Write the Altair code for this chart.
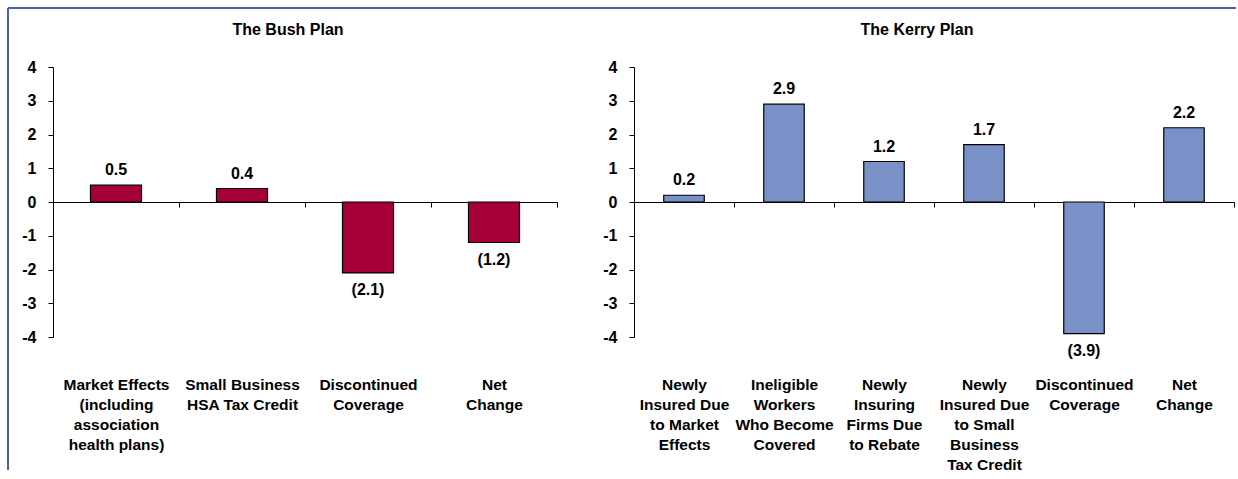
import altair as alt
import pandas as pd

# Change in insured population (millions) under each plan
bush_categories = [
    "Market Effects|(including|association|health plans)",
    "Small Business|HSA Tax Credit",
    "Discontinued|Coverage",
    "Net|Change",
]
bush_values = [0.5, 0.4, -2.1, -1.2]

kerry_categories = [
    "Newly|Insured Due|to Market|Effects",
    "Ineligible|Workers|Who Become|Covered",
    "Newly|Insuring|Firms Due|to Rebate",
    "Newly|Insured Due|to Small|Business|Tax Credit",
    "Discontinued|Coverage",
    "Net|Change",
]
kerry_values = [0.2, 2.9, 1.2, 1.7, -3.9, 2.2]

y_ticks = [-4, -3, -2, -1, 0, 1, 2, 3, 4]

FONT = "Liberation Sans"
FRAME = "#4563AE"
HEIGHT = 270


def fmt(v):
    return f"{v:.1f}" if v >= 0 else f"({abs(v):.1f})"


def panel(title, cats, vals, color, width, title_x, frame=False):
    df = pd.DataFrame({"cat": cats, "val": vals, "label": [fmt(v) for v in vals]})
    base = alt.Chart(df)

    x_axis = alt.Axis(
        title=None,
        orient="bottom",
        offset=-HEIGHT / 2,
        domainColor="black",
        domainWidth=1,
        tickColor="black",
        tickBand="extent",
        tickSize=5,
        labelExpr="split(datum.label, '|')",
        labelAngle=0,
        labelAlign="center",
        labelBaseline="top",
        labelPadding=170,
        labelFont=FONT,
        labelFontSize=15.5,
        labelFontWeight="bold",
        labelLineHeight=20,
        labelLimit=0,
        labelOverlap=False,
        labelColor="black",
    )
    y_axis = alt.Axis(
        title=None,
        values=y_ticks,
        grid=False,
        domainColor="black",
        tickColor="black",
        tickSize=5,
        labelExpr="'' + datum.value",
        labelPadding=12,
        labelFont=FONT,
        labelFontSize=16,
        labelFontWeight="bold",
        labelOverlap=False,
        labelColor="black",
    )
    x = alt.X("cat:N", sort=cats, scale=alt.Scale(paddingInner=0, paddingOuter=0), axis=x_axis)
    y = alt.Y("val:Q", scale=alt.Scale(domain=[-4, 4], nice=False, zero=False), axis=y_axis)

    bars = base.mark_bar(
        width=alt.RelativeBandSize(0.405), color=color, stroke="black", strokeWidth=1.2
    ).encode(x=x, y=y)

    text_style = dict(font=FONT, fontSize=16, fontWeight="bold", color="black", baseline="alphabetic")
    pos = base.transform_filter("datum.val >= 0").mark_text(dy=-10, **text_style).encode(
        x=x, y=y, text="label:N"
    )
    neg = base.transform_filter("datum.val < 0").mark_text(dy=22, **text_style).encode(
        x=x, y=y, text="label:N"
    )

    heading = alt.Chart(pd.DataFrame({"t": [title]})).mark_text(
        font=FONT, fontSize=16, fontWeight="bold", color="black", baseline="middle", align="center"
    ).encode(text="t:N", x=alt.value(title_x), y=alt.value(-37))

    layers = [bars, pos, neg, heading]
    if frame:
        one = pd.DataFrame({"k": [0]})
        top = alt.Chart(one).mark_rule(color=FRAME, strokeWidth=2).encode(
            x=alt.value(-45), x2=alt.value(1183), y=alt.value(-59)
        )
        left = alt.Chart(one).mark_rule(color=FRAME, strokeWidth=2).encode(
            x=alt.value(-45), y=alt.value(-59), y2=alt.value(403)
        )
        layers += [top, left]

    return alt.layer(*layers).properties(width=width, height=HEIGHT)


bush = panel("The Bush Plan", bush_categories, bush_values, "#A6003A", 504, 235, frame=True)
kerry = panel("The Kerry Plan", kerry_categories, kerry_values, "#7A91C7", 600, 283)

chart = (
    alt.hconcat(bush, kerry, spacing=77, bounds="flush")
    .properties(padding={"left": 7, "top": 7, "right": 0, "bottom": 0}, background="white")
    .configure_view(stroke=None)
    .configure_axisY(labelFont=FONT, labelFontWeight="bold", labelFontSize=16, labelColor="black")
)

chart.save("out.html", embed_options={"renderer": "svg", "actions": False})
